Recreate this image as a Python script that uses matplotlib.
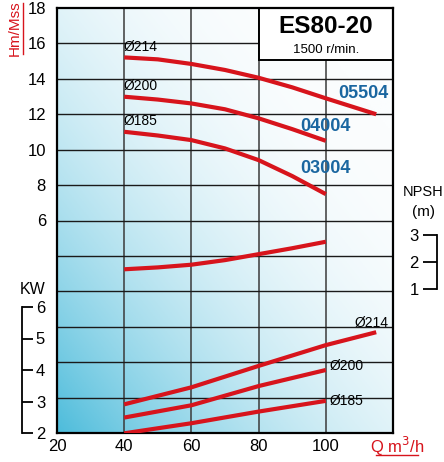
import numpy as np
import matplotlib
matplotlib.use("Agg")
import matplotlib.pyplot as plt
from matplotlib.colors import to_rgb

plt.rcParams['font.family'] = ['Liberation Sans', 'DejaVu Sans']

# ---- data ----
q_ticks = [20, 40, 60, 80, 100]
h_ticks = [6, 8, 10, 12, 14, 16, 18]
kw_ticks = [2, 3, 4, 5, 6]
npsh_ticks = [1, 2, 3]

# head curves (Hm)
q_214 = [40, 50, 60, 70, 80, 90, 100, 115]
h_214 = [15.21, 15.10, 14.84, 14.50, 14.06, 13.52, 12.90, 12.0]
q_200 = [40, 50, 60, 70, 80, 90, 100]
h_200 = [12.99, 12.83, 12.61, 12.28, 11.77, 11.16, 10.50]
q_185 = [40, 50, 60, 70, 80, 90, 100]
h_185 = [11.01, 10.80, 10.54, 10.07, 9.41, 8.51, 7.49]

# power curves (KW)
qk_214 = [40, 60, 80, 100, 115]
kw_214 = [2.91, 3.45, 4.13, 4.79, 5.20]
qk_200 = [40, 60, 80, 100]
kw_200 = [2.49, 2.88, 3.49, 4.0]
qk_185 = [40, 60, 80, 100]
kw_185 = [1.99, 2.31, 2.68, 3.02]

# NPSH curve (m)
q_npsh = [40, 50, 60, 70, 80, 90, 100]
npsh = [1.73, 1.80, 1.90, 2.07, 2.29, 2.51, 2.75]

models = ["05504", "04004", "03004"]
diams = ["Ø214", "Ø200", "Ø185"]

red = "#d7141c"
blue = "#1a66a0"

fig = plt.figure(figsize=(4.44, 4.62), dpi=100)
ax = fig.add_axes([57 / 444, 29 / 462, 336 / 444, 425 / 462])
ax.set_xlim(20, 120)
ax.set_ylim(-6, 18)

# background gradient, cyan at bottom-left to white at top-right
nx, ny = 200, 200
gx, gy = np.meshgrid(np.linspace(0, 1, nx), np.linspace(0, 1, ny))
t = np.clip((gx + gy) / 1.7, 0, 1)
w = (1 - t) ** 2.1
c0 = np.array(to_rgb("#4dbcdb"))
img = w[..., None] * c0 + (1 - w[..., None]) * np.array(to_rgb("#fbfdfe"))
ax.imshow(img, extent=[20, 120, -6, 18], origin="lower", aspect="auto", zorder=0)

# grid
for x in [40, 60, 80, 100]:
    ax.axvline(x, color="#3a3a3a", lw=1.1, zorder=1)
for y in range(-4, 18, 2):
    ax.axhline(y, color="#1a1a1a", lw=1.0, zorder=1)
for s in ax.spines.values():
    s.set_linewidth(1.6)
    s.set_zorder(5)

# title box
ax.add_patch(plt.Rectangle((80, 15.05), 40, 2.95, facecolor="white",
                           edgecolor="black", lw=1.4, zorder=3))
ax.text(100, 16.95, "ES80-20", ha="center", va="center", fontsize=17.5,
        fontweight="bold", zorder=4)
ax.text(100, 15.65, "1500 r/min.", ha="center", va="center", fontsize=9.5, zorder=4)

# head curves
lw = 3
ax.plot(q_214, h_214, color=red, lw=lw, zorder=4, solid_capstyle="butt")
ax.plot(q_200, h_200, color=red, lw=lw, zorder=4, solid_capstyle="butt")
ax.plot(q_185, h_185, color=red, lw=lw, zorder=4, solid_capstyle="butt")

for d, hy in zip(diams, [h_214[0], h_200[0], h_185[0]]):
    ax.text(39.8, hy + 0.6, d, ha="left", va="center", fontsize=10, zorder=4)

ax.text(118.8, 13.2, models[0], ha="right", va="center", fontsize=13,
        fontweight="bold", color=blue, zorder=4)
ax.text(100, 11.33, models[1], ha="center", va="center", fontsize=13,
        fontweight="bold", color=blue, zorder=4)
ax.text(100, 8.96, models[2], ha="center", va="center", fontsize=13,
        fontweight="bold", color=blue, zorder=4)

ax.set_xticks(q_ticks)
ax.set_yticks(h_ticks)
ax.tick_params(axis="both", length=0, labelsize=12)
ax.tick_params(axis="x", pad=4)
ax.tick_params(axis="y", pad=8)

# KW axis
axk = ax.twinx()
axk.set_ylim(2, 2 + 425 / 31.5)
axk.set_xlim(20, 120)
axk.spines["right"].set_position(("axes", -35 / 336))
axk.spines["right"].set_bounds(2, 6)
axk.spines["right"].set_linewidth(1.3)
for k in ["left", "top", "bottom"]:
    axk.spines[k].set_visible(False)
axk.set_yticks(kw_ticks)
axk.tick_params(axis="y", direction="out", length=8, width=1.3, labelsize=12, pad=2)
axk.plot(qk_214, kw_214, color=red, lw=lw, zorder=4, solid_capstyle="butt")
axk.plot(qk_200, kw_200, color=red, lw=lw, zorder=4, solid_capstyle="butt")
axk.plot(qk_185, kw_185, color=red, lw=lw, zorder=4, solid_capstyle="butt")
axk.text(118.6, 5.48, diams[0], ha="right", va="center", fontsize=10)
axk.text(101.2, 4.13, diams[1], ha="left", va="center", fontsize=10)
axk.text(101.2, 3.03, diams[2], ha="left", va="center", fontsize=10)
fig.text(33 / 444, 1 - 289 / 462, "KW", ha="center", va="center", fontsize=11.5)

# NPSH axis
axn = ax.twinx()
axn.set_ylim(1 - 144 / 27, 3 + 227 / 27)
axn.set_xlim(20, 120)
axn.spines["left"].set_visible(True)
axn.spines["left"].set_position(("axes", (437 - 57) / 336))
axn.spines["left"].set_bounds(1, 3)
axn.spines["left"].set_linewidth(1.3)
for k in ["right", "top", "bottom"]:
    axn.spines[k].set_visible(False)
axn.yaxis.set_ticks_position("left")
axn.yaxis.set_label_position("left")
axn.set_yticks(npsh_ticks)
axn.tick_params(axis="y", direction="out", length=10, width=1.3, labelsize=12, pad=3)
axn.plot(q_npsh, npsh, color=red, lw=lw, zorder=4, solid_capstyle="butt")
fig.text(423 / 444, 1 - 192 / 462, "NPSH", ha="center", va="center", fontsize=10.5)
fig.text(423 / 444, 1 - 212 / 462, "(m)", ha="center", va="center", fontsize=11)

# axis titles
fig.text(15 / 444, 1 - 28 / 462, "Hm/Mss", rotation=90, ha="center", va="center",
         fontsize=11, color=red)
fig.add_artist(plt.Line2D([23 / 444, 23 / 444], [1 - 54 / 462, 1 - 3 / 462],
                          color=red, lw=1))
fig.text(397 / 444, 1 - 446 / 462, "Q m$^3$/h", ha="center", va="center",
         fontsize=12, color=red)
fig.add_artist(plt.Line2D([376 / 444, 418 / 444], [1 - 455 / 462, 1 - 455 / 462],
                          color=red, lw=1))

fig.savefig("out.png", dpi=100)
